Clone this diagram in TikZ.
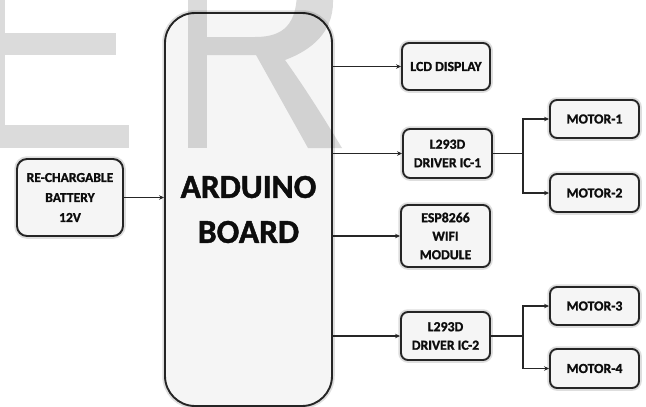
\documentclass[tikz,border=0pt]{standalone}
\usepackage{fontspec}
\setmainfont{Carlito}[BoldFeatures={FakeBold=1.3}]
\usetikzlibrary{arrows.meta,calc}
\definecolor{boxfill}{HTML}{F5F5F5}
\definecolor{boxline}{HTML}{252525}
\definecolor{txt}{HTML}{0D0D0D}
\begin{document}
\begin{tikzpicture}[x=1pt,y=-1pt,
  blk/.style={draw=boxline, line width=1.9pt, fill=boxfill, rounded corners=7pt,
    inner sep=0pt, align=center, text=txt,
    font=\fontsize{13.8}{18.5}\selectfont\bfseries,
    preaction={draw=black!13, line width=5.5pt}},
  conn/.style={draw=black!85, line width=1.1pt, -{Stealth[length=5pt,width=4.5pt]}},
  plain/.style={draw=black!85, line width=1.1pt},
  wm/.style={fill=black, fill opacity=0.14, draw=none}]
\useasboundingbox (0,0) rectangle (646,407);
\fill[white] (0,0) rectangle (646,407);

% nodes
\node[blk, rounded corners=30pt, minimum width=167pt, minimum height=393pt,
  font=\fontsize{33.5}{45}\selectfont\bfseries] (ard) at (248.5,209.5) {ARDUINO\\BOARD};
\node[blk, rounded corners=10pt, minimum width=106pt, minimum height=77pt,
  font=\fontsize{13.6}{20}\selectfont\bfseries] (bat) at (70,197.5) {RE-CHARGABLE\\BATTERY\\12V};
\node[blk, minimum width=88pt, minimum height=47pt] (lcd) at (446,66.5) {LCD DISPLAY};
\node[blk, minimum width=89pt, minimum height=49pt] (drv1) at (447.5,153.5) {L293D\\DRIVER IC-1};
\node[blk, minimum width=89pt, minimum height=62pt] (esp) at (445.5,236) {ESP8266\\WIFI\\MODULE};
\node[blk, minimum width=89pt, minimum height=48pt] (drv2) at (445.5,336) {L293D\\DRIVER IC-2};
\node[blk, minimum width=89pt, minimum height=38pt] (m1) at (594.5,119) {MOTOR-1};
\node[blk, minimum width=89pt, minimum height=38pt] (m2) at (594.5,193) {MOTOR-2};
\node[blk, minimum width=89pt, minimum height=38pt] (m3) at (594.5,306) {MOTOR-3};
\node[blk, minimum width=89pt, minimum height=39pt] (m4) at (594.5,368.5) {MOTOR-4};

% connectors
\draw[conn] (bat.east) -- (bat.east -| ard.west);
\draw[conn] (lcd.west -| ard.east) -- (lcd.west);
\draw[conn] (drv1.west -| ard.east) -- (drv1.west);
\draw[conn] (esp.west -| ard.east) -- (esp.west);
\draw[conn] (drv2.west -| ard.east) -- (drv2.west);
\coordinate (b1) at ($(drv1.east)+(30,0)$);
\coordinate (b2) at ($(drv2.east)+(32,0)$);
\draw[plain] (drv1.east) -- (b1);
\draw[conn] (b1) |- (m1.west);
\draw[conn] (b1) |- (m2.west);
\draw[plain] (drv2.east) -- (b2);
\draw[conn] (b2) |- (m3.west);
\draw[conn] (b2) |- (m4.west);

% watermark "ER"
\fill[wm] (-20,-10) rectangle (5,148);
\fill[wm] (5,33) rectangle (116,55);
\fill[wm] (5,125) rectangle (129,148);
\fill[wm] (188,-10) rectangle (207,148);
\fill[wm] (207,37) -- (255,37) .. controls (284,37) and (297,24) .. (297,-10)
  -- (333,-10) -- (333,2) .. controls (333,32) and (312,50) .. (285,60)
  .. controls (305,88) and (322,115) .. (342,148) -- (308,148) -- (256,55) -- (207,55) -- cycle;
\end{tikzpicture}
\end{document}
